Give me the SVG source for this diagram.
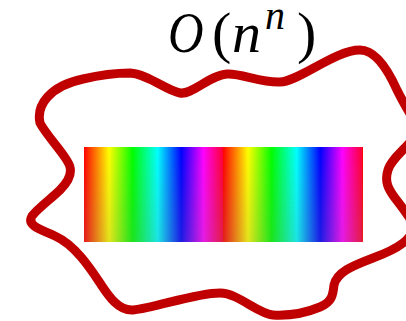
<svg xmlns="http://www.w3.org/2000/svg" width="406" height="321" viewBox="0 0 406 321">
<style>
.blob{fill:none;stroke:#C00000;stroke-width:9;stroke-linejoin:round;stroke-linecap:round}
.m{font-family:"Liberation Serif","DejaVu Serif",serif;fill:#000}
.it{font-style:italic}
</style>
<defs>
<linearGradient id="hue" gradientUnits="userSpaceOnUse" x1="84" y1="0" x2="223" y2="0" spreadMethod="repeat">
<stop offset="0" stop-color="#ff0000"/>
<stop offset="0.18" stop-color="#ffff00"/>
<stop offset="0.35" stop-color="#00ff00"/>
<stop offset="0.53" stop-color="#00ffff"/>
<stop offset="0.70" stop-color="#0000ff"/>
<stop offset="0.86" stop-color="#ff00ff"/>
<stop offset="1" stop-color="#ff0033"/>
</linearGradient>
<linearGradient id="shade" x1="0" y1="0" x2="0" y2="1">
<stop offset="0" stop-color="#808080" stop-opacity="0"/>
<stop offset="1" stop-color="#808080" stop-opacity="0.22"/>
</linearGradient>
</defs>
<g id="boundary">
<path class="blob" d="M40,123 C36,105 50,86 83,79 C100,75 115,73 130,73 C148,74 165,90 180,93 C192,95 210,75 227,74 C240,73 262,83 280,82 C300,81 335,50 360,50 C375,50 388,70 397,90 C402,100 410,115 418,125 C420,140 392,155 388,170 C384,182 389,190 395,198 C402,207 408,215 412,222 C418,238 395,250 373,258 C352,266 337,272 334,285 C333,295 332,302 320,307 C308,312 290,316 273,315 C258,314 238,293 220,293 C195,293 155,308 133,310 C118,311 108,295 100,283 C90,268 75,245 55,236 C42,230 26,226 32,216 C38,208 52,198 60,190 C68,182 72,175 70,167 C68,157 48,138 40,123 Z"/>
</g>
<g id="spectrum">
<rect x="84" y="147" width="279" height="95" fill="url(#hue)"/>
<rect x="84" y="147" width="279" height="95" fill="url(#shade)"/>
</g>
<g id="label">
<text class="m it" x="168" y="52" font-size="58" transform="translate(168,0) scale(0.85,1) translate(-168,0)">O</text>
<text class="m" x="212" y="52" font-size="58">(</text>
<text class="m it" x="232" y="52" font-size="58">n</text>
<text class="m it" x="265" y="29" font-size="40">n</text>
<text class="m" x="297" y="52" font-size="58">)</text>
</g>
</svg>
